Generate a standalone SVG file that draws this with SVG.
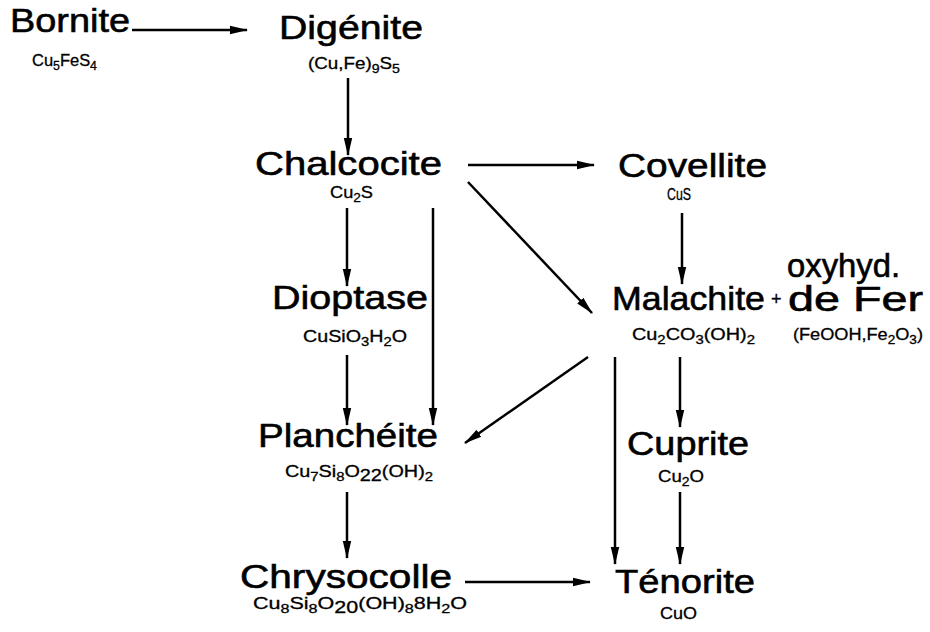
<svg xmlns="http://www.w3.org/2000/svg" width="930" height="632" viewBox="0 0 930 632">
<defs>
<style>
.n{font-family:"Liberation Sans",Arial,Helvetica,sans-serif;font-size:34px;fill:#000;stroke:#000;stroke-width:0.6}
.f{font-family:"Liberation Sans",Arial,Helvetica,sans-serif;font-size:16px;fill:#000;stroke:#000;stroke-width:0.3}
.s{font-size:12px}
.c{stroke:#000;stroke-width:2.5;fill:none;marker-end:url(#ah)}
</style>
<marker id="ah" markerWidth="18" markerHeight="10" refX="17" refY="5" orient="auto" markerUnits="userSpaceOnUse">
<path d="M0,0.8 L18,5 L0,9.2 z" fill="#000"/>
</marker>
</defs>
<rect width="930" height="632" fill="#fff"/>

<g id="connectors">
<path class="c" d="M132,30 H247"/>
<path class="c" d="M348,78 V155"/>
<path class="c" d="M468,165 H594"/>
<path class="c" d="M468,182 L592,313"/>
<path class="c" d="M347,208 V286"/>
<path class="c" d="M433,208 V425"/>
<path class="c" d="M682,213 V284"/>
<path class="c" d="M347,355 V425"/>
<path class="c" d="M588,357 L465,443"/>
<path class="c" d="M615,357 V564"/>
<path class="c" d="M680,357 V427"/>
<path class="c" d="M347,492 V558"/>
<path class="c" d="M680,492 V564"/>
<path class="c" d="M465,582 H590"/>
</g>

<g id="bornite">
<text class="n" x="10" y="32" textLength="120" lengthAdjust="spacingAndGlyphs">Bornite</text>
<text class="f" x="32" y="66" textLength="65" lengthAdjust="spacingAndGlyphs">Cu<tspan class="s" dy="4">5</tspan><tspan dy="-4">FeS</tspan><tspan class="s" dy="4">4</tspan></text>
</g>

<g id="digenite">
<text class="n" x="279" y="39" textLength="144" lengthAdjust="spacingAndGlyphs">Digénite</text>
<text class="f" x="308" y="69" textLength="92" lengthAdjust="spacingAndGlyphs">(Cu,Fe)<tspan class="s" dy="4">9</tspan><tspan dy="-4">S</tspan><tspan class="s" dy="4">5</tspan></text>
</g>

<g id="chalcocite">
<text class="n" x="255" y="175" textLength="187" lengthAdjust="spacingAndGlyphs">Chalcocite</text>
<text class="f" x="330" y="198" textLength="43" lengthAdjust="spacingAndGlyphs">Cu<tspan class="s" dy="4">2</tspan><tspan dy="-4">S</tspan></text>
</g>

<g id="covellite">
<text class="n" x="618" y="177" textLength="149" lengthAdjust="spacingAndGlyphs">Covellite</text>
<text class="f" x="667" y="200" textLength="24" lengthAdjust="spacingAndGlyphs">CuS</text>
</g>

<g id="dioptase">
<text class="n" x="272" y="309" textLength="156" lengthAdjust="spacingAndGlyphs">Dioptase</text>
<text class="f" x="303" y="342" textLength="104" lengthAdjust="spacingAndGlyphs">CuSiO<tspan class="s" dy="4">3</tspan><tspan dy="-4">H</tspan><tspan class="s" dy="4">2</tspan><tspan dy="-4">O</tspan></text>
</g>

<g id="malachite">
<text class="n" x="612" y="310" textLength="153" lengthAdjust="spacingAndGlyphs">Malachite</text>
<text class="f" x="632" y="340" textLength="123" lengthAdjust="spacingAndGlyphs">Cu<tspan class="s" dy="4">2</tspan><tspan dy="-4">CO</tspan><tspan class="s" dy="4">3</tspan><tspan dy="-4">(OH)</tspan><tspan class="s" dy="4">2</tspan></text>
</g>

<g id="oxyhydroxyde">
<text class="n" x="787" y="277" textLength="113" lengthAdjust="spacingAndGlyphs">oxyhyd.</text>
<text class="f" x="771" y="305" style="font-size:18px">+</text>
<text class="n" x="788" y="311" textLength="135" lengthAdjust="spacingAndGlyphs" style="font-size:35px">de Fer</text>
<text class="f" x="793" y="340" textLength="130" lengthAdjust="spacingAndGlyphs">(FeOOH,Fe<tspan class="s" dy="4">2</tspan><tspan dy="-4">O</tspan><tspan class="s" dy="4">3</tspan><tspan dy="-4">)</tspan></text>
</g>

<g id="plancheite">
<text class="n" x="258" y="447" textLength="180" lengthAdjust="spacingAndGlyphs">Planchéite</text>
<text class="f" x="285" y="477" textLength="148" lengthAdjust="spacingAndGlyphs">Cu<tspan class="s" dy="4">7</tspan><tspan dy="-4">Si</tspan><tspan class="s" dy="4">8</tspan><tspan dy="-4">O</tspan><tspan dy="4">22</tspan><tspan dy="-4">(OH)</tspan><tspan class="s" dy="4">2</tspan></text>
</g>

<g id="cuprite">
<text class="n" x="627" y="455" textLength="122" lengthAdjust="spacingAndGlyphs">Cuprite</text>
<text class="f" x="658" y="482" textLength="46" lengthAdjust="spacingAndGlyphs">Cu<tspan class="s" dy="4">2</tspan><tspan dy="-4">O</tspan></text>
</g>

<g id="chrysocolle">
<text class="n" x="240" y="588" textLength="212" lengthAdjust="spacingAndGlyphs">Chrysocolle</text>
<text class="f" x="253" y="609" textLength="214" lengthAdjust="spacingAndGlyphs">Cu<tspan class="s" dy="4">8</tspan><tspan dy="-4">Si</tspan><tspan class="s" dy="4">8</tspan><tspan dy="-4">O</tspan><tspan dy="4">20</tspan><tspan dy="-4">(OH)</tspan><tspan class="s" dy="4">8</tspan><tspan dy="-4">8H</tspan><tspan class="s" dy="4">2</tspan><tspan dy="-4">O</tspan></text>
</g>

<g id="tenorite">
<text class="n" x="615" y="593" textLength="140" lengthAdjust="spacingAndGlyphs">Ténorite</text>
<text class="f" x="660" y="619" textLength="37" lengthAdjust="spacingAndGlyphs">CuO</text>
</g>
</svg>
